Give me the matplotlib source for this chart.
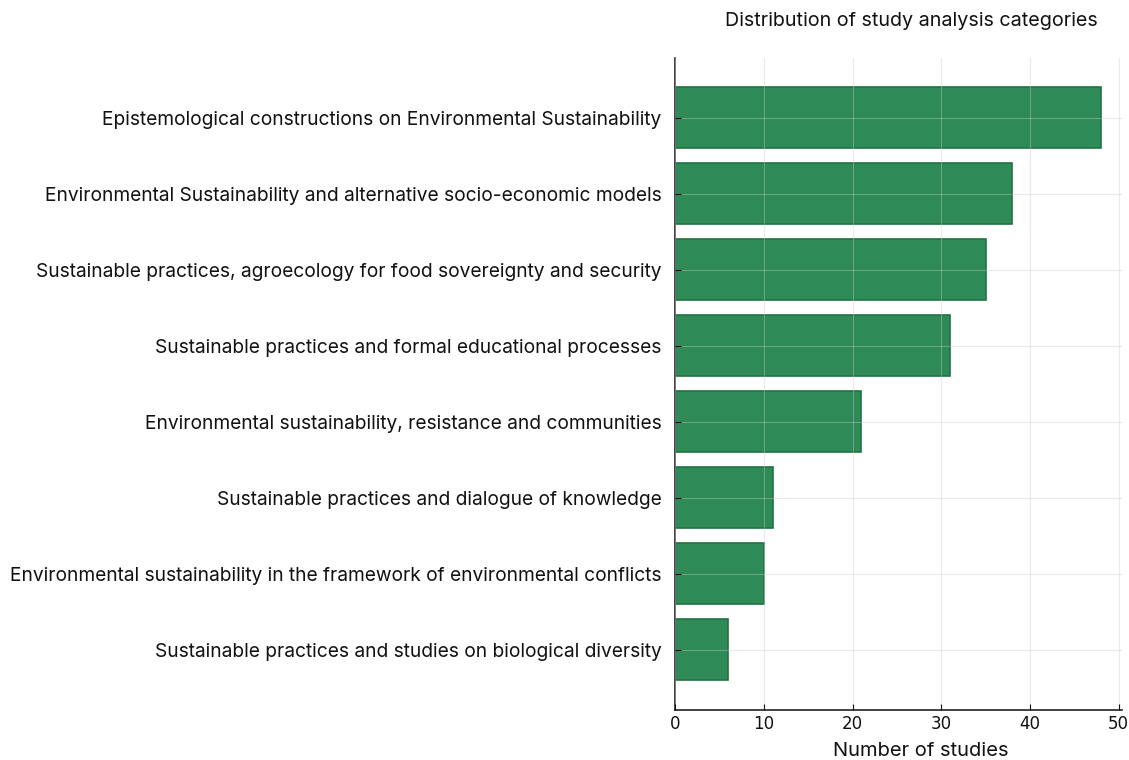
import matplotlib
matplotlib.use("Agg")
import matplotlib.pyplot as plt

# categories, top to bottom as shown in the chart
categories = [
    "Epistemological constructions on Environmental Sustainability",
    "Environmental Sustainability and alternative socio-economic models",
    "Sustainable practices, agroecology for food sovereignty and security",
    "Sustainable practices and formal educational processes",
    "Environmental sustainability, resistance and communities",
    "Sustainable practices and dialogue of knowledge",
    "Environmental sustainability in the framework of environmental conflicts",
    "Sustainable practices and studies on biological diversity",
]
counts = [48, 38, 35, 31, 21, 11, 10, 6]
xticks = [0, 10, 20, 30, 40, 50]

label_font = ["Inter", "DejaVu Sans"]

fig = plt.figure(figsize=(11.29, 7.6), dpi=100)
ax = fig.add_axes([0.598, 0.066, 0.396, 0.858])

# bottom category first so the biggest ends up on top
ypos = list(range(len(categories)))
ax.barh(ypos, counts[::-1], height=0.8, color="#2e8a56",
        edgecolor="#1f7442", linewidth=1.2, zorder=1)

ax.set_yticks(ypos)
ax.set_yticklabels(categories[::-1], family=label_font, fontsize=13.8,
                   color="#111111")
ax.set_xticks(xticks)
ax.set_xlim(0, 50.4)
ax.set_ylim(-0.79, 7.79)

ax.tick_params(axis="x", direction="in", length=4, labelsize=12, pad=4,
               colors="#111111")
ax.tick_params(axis="y", direction="in", length=4, pad=10)

for s in ["top", "right"]:
    ax.spines[s].set_visible(False)
for s in ["left", "bottom"]:
    ax.spines[s].set_linewidth(1.2)
    ax.spines[s].set_color("#222222")

ax.grid(True, color="#cccccc", alpha=0.4, linewidth=0.8, zorder=2)
ax.set_axisbelow(False)

ax.set_xlabel("Number of studies", family=label_font, fontsize=14.5,
              color="#111111", va="center")
ax.xaxis.set_label_coords(0.55, -0.063)

fig.text(0.807, 0.972, "Distribution of study analysis categories",
         family=label_font, fontsize=14.2, ha="center", va="center",
         color="#111111")

fig.savefig("out.png", dpi=100)
